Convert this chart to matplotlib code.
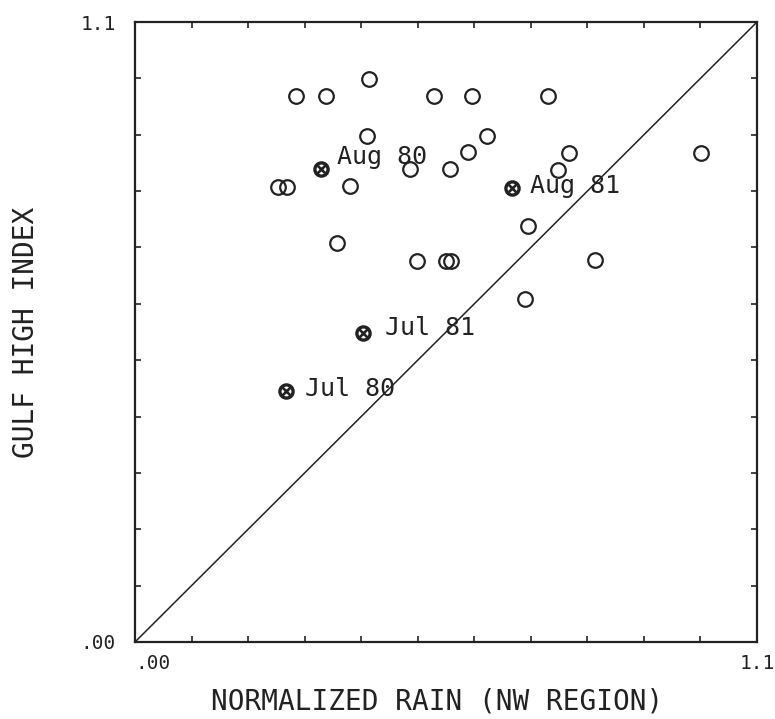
import matplotlib
matplotlib.use("Agg")
import matplotlib.pyplot as plt
from matplotlib.ticker import MultipleLocator

# normalized rain (NW region) vs gulf high index, one point per month
rain = [0.285, 0.338, 0.414, 0.529, 0.596, 0.730, 0.410, 0.622, 0.589, 0.767,
        1.001, 0.486, 0.557, 0.748, 0.253, 0.269, 0.380, 0.357, 0.499, 0.550,
        0.559, 0.695, 0.813, 0.690]
gulf = [0.969, 0.969, 0.999, 0.969, 0.969, 0.969, 0.898, 0.898, 0.869, 0.868,
        0.868, 0.839, 0.839, 0.837, 0.807, 0.807, 0.809, 0.708, 0.676, 0.676,
        0.676, 0.738, 0.678, 0.609]

# the four marked months
mark_names = ["Aug 80", "Aug 81", "Jul 81", "Jul 80"]
mark_rain = [0.329, 0.667, 0.403, 0.267]
mark_gulf = [0.839, 0.806, 0.548, 0.445]
# label offsets in points
mark_dx = [11.5, 13, 16, 14]
mark_dy = [8.6, 1.4, 4, 1.4]

ink = "#222222"
mono = "DejaVu Sans Mono"

fig = plt.figure(figsize=(7.75, 7.19), dpi=100)
ax = fig.add_axes([0.1742, 0.1071, 0.8026, 0.8623])
ax.set_xlim(0, 1.1)
ax.set_ylim(0, 1.1)

# 1:1 line
ax.plot([0, 1.1], [0, 1.1], color=ink, lw=1.1)

ax.plot(rain, gulf, "o", ms=10.5, mfc="none", mec=ink, mew=1.6, ls="none")
ax.plot(mark_rain, mark_gulf, "o", ms=9.5, mfc="none", mec=ink, mew=2.4, ls="none")
ax.plot(mark_rain, mark_gulf, "x", ms=5.5, mec=ink, mew=1.9, ls="none")

for name, x, y, dx, dy in zip(mark_names, mark_rain, mark_gulf, mark_dx, mark_dy):
    ax.annotate(name, (x, y), xytext=(dx, dy), textcoords="offset points",
                ha="left", va="center", fontsize=18, family=mono, color=ink)

for s in ax.spines.values():
    s.set_linewidth(1.6)
    s.set_color(ink)

ax.set_xticks([0, 1.1])
ax.set_yticks([0, 1.1])
ax.xaxis.set_minor_locator(MultipleLocator(0.1))
ax.yaxis.set_minor_locator(MultipleLocator(0.1))
ax.tick_params(which="major", length=0, pad=14, labelsize=14, labelcolor=ink)
ax.tick_params(axis="x", which="major", pad=9)
ax.tick_params(which="minor", direction="in", length=4.5, width=1.2, color=ink,
               top=True, right=True)
ax.set_xticklabels([".00", "1.1"], family=mono)
ax.set_yticklabels([".00", "1.1"], family=mono)
ax.get_xticklabels()[0].set_horizontalalignment("left")

ax.set_xlabel("NORMALIZED RAIN (NW REGION)", fontsize=20, family=mono, color=ink)
ax.xaxis.set_label_coords(0.4855, -0.074)
ax.set_ylabel("GULF HIGH INDEX", fontsize=20, family=mono, color=ink,
              labelpad=29)

fig.savefig("out.png", dpi=100, facecolor="white")
